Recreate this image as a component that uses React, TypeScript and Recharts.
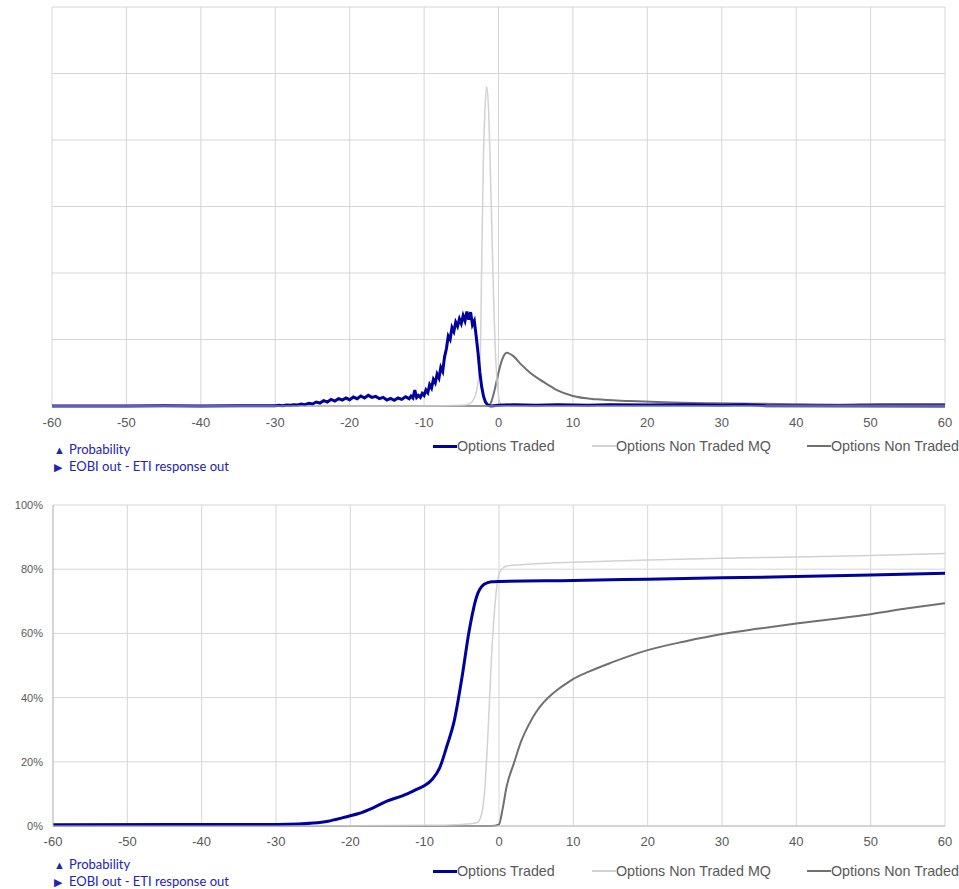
import { LineChart, Line, XAxis, YAxis, CartesianGrid } from "recharts";

// x ticks shared by both charts
const xTicks = [-60, -50, -40, -30, -20, -10, 0, 10, 20, 30, 40, 50, 60];
const pdfTicks = [0, 10, 20, 30, 40, 50, 60];
const cdfTicks = [0, 20, 40, 60, 80, 100];

// top chart: probability (arbitrary units, one gridline = 10)
const tradedPdfX = [
  -60, -50, -45, -40, -35, -30, -29.5, -29, -28.5, -28, -27.5, -27, -26.5, -26, -25.5, -25, -24.5, -24,
  -23.5, -23, -22.5, -22, -21.5, -21, -20.5, -20, -19.5, -19, -18.5, -18, -17.5, -17, -16.5, -16, -15.5,
  -15, -14.5, -14, -13.5, -13, -12.5, -12, -11.75, -11.5, -11.25, -11, -10.75, -10.5, -10.25, -10, -9.75,
  -9.5, -9.25, -9, -8.75, -8.5, -8.25, -8, -7.75, -7.5, -7.25, -7, -6.75, -6.5, -6.25, -6, -5.75, -5.5,
  -5.25, -5, -4.75, -4.5, -4.25, -4, -3.75, -3.5, -3.25, -3, -2.75, -2.5, -2.25, -2, -1.75, -1.5, -1.25,
  -1, 0, 2, 5, 8, 12, 15, 20, 25, 30, 33, 36, 60,
];
const tradedPdf = [
  0, 0, 0.05, 0, 0.05, 0.05, 0.1, 0.05, 0.15, 0.1, 0.2, 0.15, 0.3, 0.2, 0.4, 0.3, 0.6, 0.45,
  0.8, 0.6, 1.0, 0.75, 1.1, 0.9, 1.2, 0.95, 1.35, 1.1, 1.5, 1.2, 1.6, 1.3, 1.45, 1.1, 1.3,
  0.9, 1.15, 0.85, 1.2, 1.0, 1.4, 1.1, 1.5, 1.2, 2.4, 1.3, 1.6, 1.3, 1.9, 1.6, 2.4,
  2.0, 3.2, 2.7, 4.0, 3.5, 4.8, 4.2, 5.8, 5.2, 7.4, 8.6, 10.5, 10.0, 11.8, 11.2, 12.6, 12.0,
  13.1, 12.4, 13.6, 12.8, 14.2, 13.0, 14.1, 12.2, 12.8, 10.5, 8.0, 5.0, 2.8, 1.4, 0.6, 0.2, 0.05,
  0, 0.1, 0.2, 0.1, 0.2, 0.1, 0.2, 0.15, 0.2, 0.1, 0.2, 0.05, 0,
];

const mqPdfX = [-60, -10, -5, -4, -3.4, -3, -2.47, -2.25, -2.03, -1.8, -1.6, -1.35, -1.13, -0.9, -0.68, -0.45, -0.23, 0.2, 0.6, 60];
const mqPdf = [0, 0, 0.1, 0.3, 0.9, 2.0, 6.9, 22, 37, 45, 48, 45, 37, 27, 17, 9, 4.4, 0.5, 0, 0];

const nonTradedPdfX = [-60, -1.5, -1.1, -0.5, 0, 0.5, 1.1, 2, 3, 4.25, 5.5, 6.5, 8, 10, 13.2, 17.7, 22.2, 28.9, 37.9, 45.8, 51.3, 60];
const nonTradedPdf = [0, 0, 0.3, 2.5, 5.0, 7.0, 8.0, 7.5, 6.3, 5.0, 4.0, 3.3, 2.3, 1.5, 1.0, 0.75, 0.55, 0.4, 0.3, 0.2, 0.3, 0.3];

// bottom chart: cumulative probability in %
const tradedCdfX = [-60, -30, -27, -25, -23, -21, -19, -17, -15, -13, -11, -10, -9, -8, -7, -6, -5, -4, -3, -2, -1, 0, 10, 20, 30, 40, 50, 60];
const tradedCdf = [0.4, 0.5, 0.6, 0.9, 1.5, 2.6, 3.8, 5.6, 7.8, 9.4, 11.5, 12.6, 14.5, 18, 25, 33, 46, 61, 71.5, 75.3, 76.1, 76.2, 76.5, 76.9, 77.3, 77.7, 78.2, 78.7];

const mqCdfX = [-60, -20, -10, -5, -3, -2.5, -2, -1.5, -1, -0.5, 0, 0.5, 1, 3, 5, 10, 20, 30, 40, 50, 60];
const mqCdf = [0, 0.1, 0.2, 0.5, 1.0, 2.5, 9, 28, 53, 70, 78.5, 80.3, 81, 81.4, 81.7, 82.2, 82.9, 83.4, 83.8, 84.3, 84.9];

const nonTradedCdfX = [-60, -1, 0, 0.5, 1, 2, 3, 4, 5, 6, 7, 8, 9, 10, 12, 15, 20, 25, 30, 35, 40, 45, 50, 55, 60];
const nonTradedCdf = [0, 0, 0.5, 5.5, 12, 19.5, 26.5, 31.5, 35.5, 38.5, 40.8, 42.7, 44.3, 45.8, 48, 50.8, 54.8, 57.5, 59.8, 61.5, 63.1, 64.5, 66, 67.8, 69.4];

const seriesNames = ["Options Traded", "Options Non Traded MQ", "Options Non Traded"];
const notes = ["Probability", "EOBI out - ETI response out"];

const BLUE = "#00009c";
const LIGHT = "#d2d2d2";
const DARK = "#707070";
const GRID = "#d6d6d6";
const AXIS_TEXT = "#595959";

const zip = (xs: number[], ys: number[]) => xs.map((x, i) => ({ x, y: ys[i] }));

const tickStyle = { fontFamily: "'Liberation Sans', Arial, sans-serif", fontSize: 13, fill: AXIS_TEXT };

const Legend = ({ top }: { top: number }) => {
  const items = [
    { name: seriesNames[0], color: BLUE, w: 3, left: 433 },
    { name: seriesNames[1], color: LIGHT, w: 1.5, left: 592 },
    { name: seriesNames[2], color: DARK, w: 2, left: 807 },
  ];
  return (
    <>
      {items.map((it) => (
        <div
          key={it.name}
          style={{
            position: "absolute",
            left: it.left,
            top: top - 8,
            height: 16,
            display: "flex",
            alignItems: "center",
            fontFamily: "'Liberation Sans', Arial, sans-serif",
            fontSize: 14.3,
            color: AXIS_TEXT,
            whiteSpace: "nowrap",
          }}
        >
          <span style={{ display: "inline-block", width: 24, height: it.w, background: it.color }} />
          <span>{it.name}</span>
        </div>
      ))}
    </>
  );
};

const Notes = ({ top }: { top: number }) => (
  <div
    style={{
      position: "absolute",
      left: 54,
      top: top - 9,
      fontFamily: "Lato, 'Open Sans', sans-serif",
      fontSize: 13,
      lineHeight: "17px",
      color: "#2424b0",
    }}
  >
    <div>
      <span style={{ fontSize: 11, display: "inline-block", width: 15 }}>▲</span>
      {notes[0]}
    </div>
    <div>
      <span style={{ fontSize: 11, display: "inline-block", width: 15 }}>▶</span>
      {notes[1]}
    </div>
  </div>
);

export default function App() {
  return (
    <div style={{ position: "absolute", left: 0, top: 0, width: 959, height: 889, background: "#fff" }}>
      <div style={{ position: "absolute", left: 0, top: 0 }}>
        <LineChart width={959} height={480} margin={{ top: 7, right: 14, left: 0, bottom: 44 }}>
          <CartesianGrid stroke={GRID} strokeWidth={1} />
          <XAxis
            dataKey="x"
            type="number"
            domain={[-60, 60]}
            ticks={xTicks}
            interval={0}
            tickLine={false}
            tickSize={0}
            tickMargin={12}
            height={30}
            stroke="#bfbfbf"
            tick={tickStyle}
            allowDuplicatedCategory={false}
          />
          <YAxis
            type="number"
            domain={[0, 60]}
            ticks={pdfTicks}
            width={52}
            tick={() => <g />}
            axisLine={false}
            tickLine={false}
          />
          <Line data={zip(nonTradedPdfX, nonTradedPdf)} dataKey="y" type="monotone" stroke={DARK} strokeWidth={2} dot={false} isAnimationActive={false} />
          <Line data={zip(mqPdfX, mqPdf)} dataKey="y" type="monotone" stroke={LIGHT} strokeWidth={1.5} dot={false} isAnimationActive={false} />
          <Line data={zip(tradedPdfX, tradedPdf)} dataKey="y" type="linear" stroke={BLUE} strokeWidth={3} dot={false} isAnimationActive={false} />
        </LineChart>
      </div>
      <Legend top={446} />
      <Notes top={450} />

      <div style={{ position: "absolute", left: 0, top: 490 }}>
        <LineChart width={959} height={399} margin={{ top: 15, right: 14, left: 0, bottom: 33 }}>
          <CartesianGrid stroke={GRID} strokeWidth={1} />
          <XAxis
            dataKey="x"
            type="number"
            domain={[-60, 60]}
            ticks={xTicks}
            interval={0}
            tickLine={false}
            tickSize={0}
            tickMargin={11}
            height={30}
            stroke="#bfbfbf"
            tick={tickStyle}
            allowDuplicatedCategory={false}
          />
          <YAxis
            type="number"
            domain={[0, 100]}
            ticks={cdfTicks}
            width={53}
            tickLine={false}
            tickSize={0}
            tickMargin={10}
            stroke="#bfbfbf"
            tick={{ ...tickStyle, fontSize: 11 }}
            tickFormatter={(v: number) => `${v}%`}
          />
          <Line data={zip(nonTradedCdfX, nonTradedCdf)} dataKey="y" type="monotone" stroke={DARK} strokeWidth={2} dot={false} isAnimationActive={false} />
          <Line data={zip(mqCdfX, mqCdf)} dataKey="y" type="monotone" stroke={LIGHT} strokeWidth={1.5} dot={false} isAnimationActive={false} />
          <Line data={zip(tradedCdfX, tradedCdf)} dataKey="y" type="monotone" stroke={BLUE} strokeWidth={3} dot={false} isAnimationActive={false} />
        </LineChart>
      </div>
      <Legend top={871} />
      <Notes top={865} />
    </div>
  );
}
